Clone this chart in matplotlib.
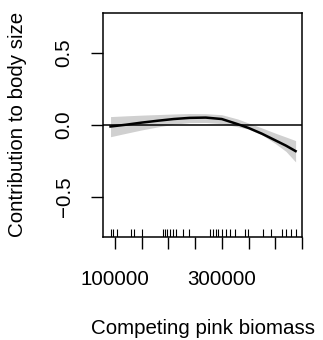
import numpy as np
import matplotlib
matplotlib.use('Agg')
import matplotlib.pyplot as plt

# smooth term for competing pink biomass
biomass = [92000, 120000, 150000, 180000, 210000, 240000, 270000,
           300000, 330000, 350000, 375000, 400000, 420000, 438000]
fit = [-0.012, 0.000, 0.015, 0.028, 0.040, 0.048, 0.050,
       0.040, 0.004, -0.022, -0.062, -0.108, -0.145, -0.183]
upper = [0.057, 0.062, 0.067, 0.071, 0.075, 0.078, 0.077,
         0.070, 0.040, 0.012, -0.022, -0.058, -0.085, -0.110]
lower = [-0.083, -0.060, -0.036, -0.015, 0.004, 0.015, 0.016,
         0.008, -0.014, -0.030, -0.070, -0.130, -0.185, -0.258]

# observed biomass values (rug)
rug_x = [92000, 96800, 103200, 131200, 136100, 151000, 189200, 193500,
         198500, 202800, 209000, 215300, 227700, 238900, 278900, 283700,
         288800, 293800, 301300, 308700, 315000, 325600, 343000, 349200,
         377200, 392900, 413500, 420900, 430300, 439600]

x_ticks = [100000, 150000, 200000, 250000, 300000, 350000, 400000, 450000]
x_labels = ['100000', '', '', '', '300000', '', '', '']
y_ticks = [-0.5, 0.0, 0.5]
y_labels = ['\u22120.5', '0.0', '0.5']

plt.rcParams['font.family'] = ['Liberation Sans', 'DejaVu Sans']
fs = 14.8

fig = plt.figure(figsize=(3.23, 3.40), dpi=100)
ax = fig.add_axes([0.319, 0.303, 0.616, 0.66])

ax.fill_between(biomass, lower, upper, color='#d0d0d0', lw=0)
ax.axhline(0, color='black', lw=1.1)
ax.plot(biomass, fit, color='black', lw=1.8)
ax.vlines(rug_x, 0, 0.035, color='black', lw=0.8,
          transform=ax.get_xaxis_transform())

ax.set_xlim(78000, 450000)
ax.set_ylim(-0.78, 0.78)

ax.set_xticks(x_ticks)
ax.set_xticklabels(x_labels)
ax.set_yticks(y_ticks)
ax.set_yticklabels(y_labels, rotation=90, va='center')

ax.tick_params(direction='out', length=8.6, width=1.0, labelsize=fs)
ax.tick_params(axis='x', pad=15)
ax.tick_params(axis='y', pad=12.5)
for s in ax.spines.values():
    s.set_linewidth(1.1)

ax.set_xlabel('Competing pink biomass', fontsize=fs, labelpad=22)
ax.set_ylabel('Contribution to body size', fontsize=fs, labelpad=20)

fig.savefig('out.png', dpi=100)
